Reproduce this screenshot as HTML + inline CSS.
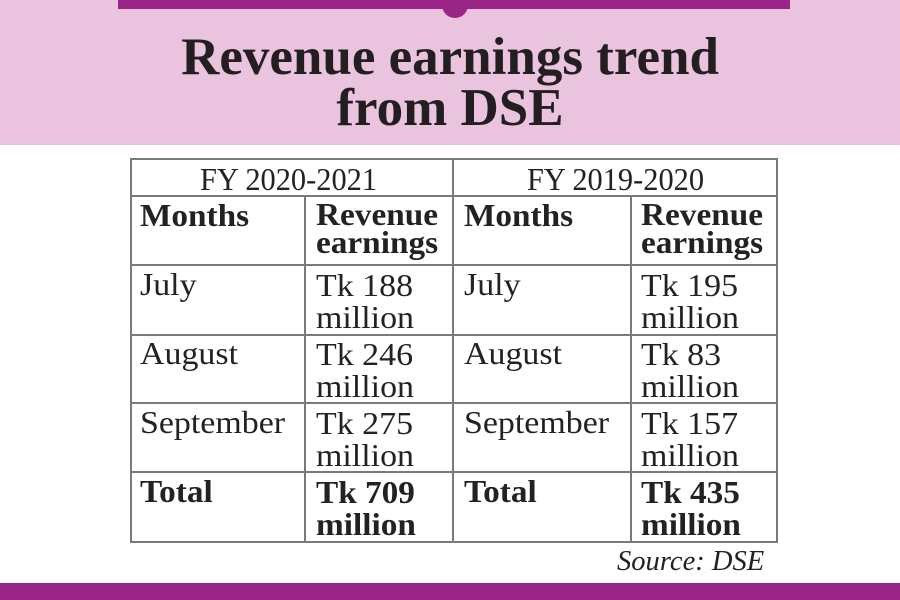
<!DOCTYPE html>
<html><head><meta charset="utf-8"><style>
*{margin:0;padding:0}
body{width:900px;height:600px;position:relative;background:#fff;overflow:hidden;font-family:"Liberation Serif",serif;color:#222}
.t{position:absolute;white-space:nowrap;transform-origin:0 0;transform:scaleX(1.06);font-size:32px;line-height:30px}
.b{font-weight:bold;transform:scaleX(1.04)}
.h{position:absolute;background:#7a7a7a;height:2px}
.v{position:absolute;background:#7a7a7a;width:2px}
.title{position:absolute;left:0;width:900px;text-align:center;font-weight:bold;font-size:53px;line-height:52px;color:#231f20}
.title span{display:inline-block;transform:scaleX(1.0)}
</style></head><body>
<div style="position:absolute;left:0;top:0;width:900px;height:145px;background:#eac3de"></div>
<div style="position:absolute;left:118px;top:0;width:672px;height:9px;background:#9b2487"></div>
<div style="position:absolute;left:442px;top:-8px;width:26px;height:26px;border-radius:50%;background:#9b2487"></div>
<div class="title" style="top:31px"><span>Revenue earnings trend</span></div>
<div class="title" style="top:82px"><span>from DSE</span></div>
<div style="position:absolute;left:0;top:583px;width:900px;height:17px;background:#9b2487"></div>

<div class="h" style="left:130px;top:158px;width:648px"></div>
<div class="h" style="left:130px;top:195px;width:648px"></div>
<div class="h" style="left:130px;top:264px;width:648px"></div>
<div class="h" style="left:130px;top:334px;width:648px"></div>
<div class="h" style="left:130px;top:402px;width:648px"></div>
<div class="h" style="left:130px;top:471px;width:648px"></div>
<div class="h" style="left:130px;top:541px;width:648px"></div>
<div class="v" style="left:130px;top:158px;height:385px"></div>
<div class="v" style="left:304px;top:195px;height:348px"></div>
<div class="v" style="left:452px;top:158px;height:385px"></div>
<div class="v" style="left:630px;top:195px;height:348px"></div>
<div class="v" style="left:776px;top:158px;height:385px"></div>

<div class="t" style="left:200px;top:164px;transform:scaleX(0.95)">FY 2020-2021</div>
<div class="t" style="left:527px;top:164px;transform:scaleX(0.95)">FY 2019-2020</div>

<div class="t b" style="left:140px;top:200px">Months</div>
<div class="t b" style="left:316px;top:200px;line-height:28px">Revenue<br>earnings</div>
<div class="t b" style="left:464px;top:200px">Months</div>
<div class="t b" style="left:641px;top:200px;line-height:28px">Revenue<br>earnings</div>

<div class="t" style="left:140px;top:269px">July</div>
<div class="t" style="left:316px;top:269px;line-height:32px">Tk 188<br>million</div>
<div class="t" style="left:464px;top:269px">July</div>
<div class="t" style="left:641px;top:269px;line-height:32px">Tk 195<br>million</div>

<div class="t" style="left:140px;top:338px">August</div>
<div class="t" style="left:316px;top:338px;line-height:32px">Tk 246<br>million</div>
<div class="t" style="left:464px;top:338px">August</div>
<div class="t" style="left:641px;top:338px;line-height:32px">Tk 83<br>million</div>

<div class="t" style="left:140px;top:407px">September</div>
<div class="t" style="left:316px;top:407px;line-height:32px">Tk 275<br>million</div>
<div class="t" style="left:464px;top:407px">September</div>
<div class="t" style="left:641px;top:407px;line-height:32px">Tk 157<br>million</div>

<div class="t b" style="left:140px;top:476px">Total</div>
<div class="t b" style="left:316px;top:476px;line-height:32px">Tk 709<br>million</div>
<div class="t b" style="left:464px;top:476px">Total</div>
<div class="t b" style="left:641px;top:476px;line-height:32px">Tk 435<br>million</div>

<div class="t" style="left:617px;top:547px;font-style:italic;font-size:28px;transform:scaleX(1.02)">Source: DSE</div>
</body></html>
